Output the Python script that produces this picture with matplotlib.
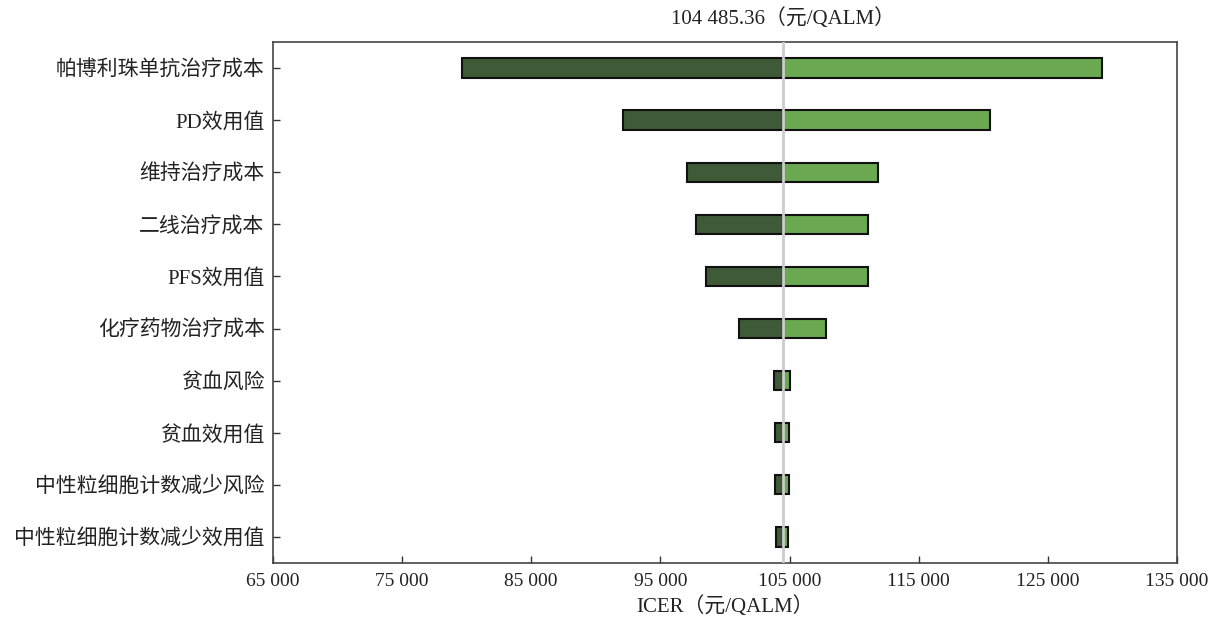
import matplotlib
matplotlib.use("Agg")
import matplotlib.pyplot as plt
import matplotlib.ticker as ticker

plt.rcParams['font.family'] = ['Liberation Serif', 'Noto Sans CJK SC', 'DejaVu Sans']

# Tornado data (top to bottom)
params = ['帕博利珠单抗治疗成本', 'PD效用值', '维持治疗成本', '二线治疗成本', 'PFS效用值',
          '化疗药物治疗成本', '贫血风险', '贫血效用值', '中性粒细胞计数减少风险',
          '中性粒细胞计数减少效用值']
low_vals = [79650, 92100, 97070, 97750, 98540, 101100, 103800, 103900, 103900, 103950]
high_vals = [129200, 120500, 111850, 111080, 111080, 107800, 105050, 104950, 104950, 104880]
base_icer = 104485.36
xticks = [65000, 75000, 85000, 95000, 105000, 115000, 125000, 135000]

dark_green = '#3e5a36'
light_green = '#6aa851'

fig = plt.figure(figsize=(12.12, 6.21), dpi=100)
ax = fig.add_axes([0.2252, 0.0934, 0.7459, 0.839])

ypos = list(range(len(params)))
bar_h = 0.37
for y, lo, hi in zip(ypos, low_vals, high_vals):
    ax.barh(y, base_icer - lo, left=lo, height=bar_h, color=dark_green,
            edgecolor='#111111', linewidth=1.5, zorder=2)
    ax.barh(y, hi - base_icer, left=base_icer, height=bar_h, color=light_green,
            edgecolor='#111111', linewidth=1.5, zorder=2)

ax.axvline(base_icer, color='#cccccc', linewidth=2, zorder=3)

ax.set_xlim(65000, 135000)
ax.set_ylim(len(params) - 0.5, -0.5)
ax.set_yticks(ypos)
ax.set_yticklabels(params)
ax.set_xticks(xticks)
ax.xaxis.set_major_formatter(ticker.FuncFormatter(
    lambda v, p: f'{int(v):,}'.replace(',', ' ')))

ax.tick_params(direction='in', length=5, width=1, colors='#333333',
               labelcolor='#222222')
ax.tick_params(axis='x', labelsize=14, pad=7)
ax.tick_params(axis='y', labelsize=15, pad=6)
for s in ax.spines.values():
    s.set_color('#444444')
    s.set_linewidth(1.2)

ax.set_xlabel('ICER（元/QALM）', fontsize=15, color='#222222', labelpad=5)
ax.text(base_icer, 1.025, '104 485.36（元/QALM）', transform=ax.get_xaxis_transform(),
        ha='center', va='bottom', fontsize=15, color='#222222')

plt.savefig('out.png', dpi=100)
